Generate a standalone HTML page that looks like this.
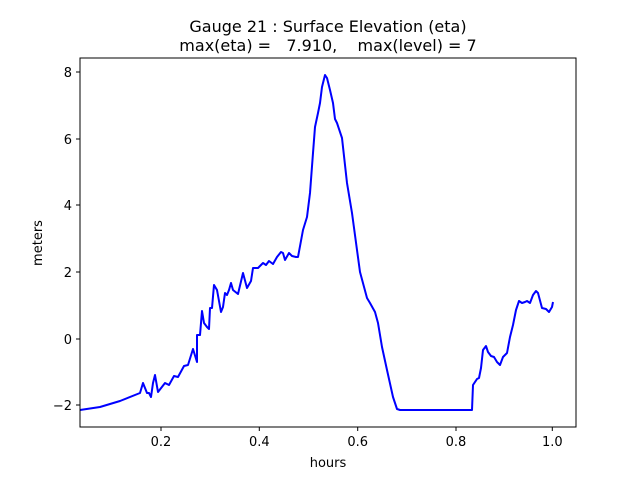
<!DOCTYPE html>
<html><head><meta charset="utf-8"><style>html,body{margin:0;padding:0;background:#fff}</style></head>
<body>
<svg width="640" height="480" xmlns="http://www.w3.org/2000/svg" font-family="DejaVu Sans, Liberation Sans, sans-serif">
<rect width="640" height="480" fill="#fff"/>
<text x="328" y="32" font-size="16" text-anchor="middle">Gauge 21 : Surface Elevation (eta)</text>
<text x="328" y="51" font-size="16" text-anchor="middle" xml:space="preserve">max(eta) =   7.910,    max(level) = 7</text>
<polyline fill="none" stroke="#0000ff" stroke-width="2" stroke-linejoin="round" points="80,410 100,407 120,401 140,393 143,383 147,393 149,393 151,397 153,383 155,375 158,392 165,383 169,385 174,376 178,377 184,366 188,365 193,349 197,362 197,335 200,335 202,311 204,323 207,327 209,329 210,308 212,308 214,285 217,290 221,312 223,307 225,293 227,295 229,290 231,283 233,290 238,294 243,273 247,288 251,281 253,268 258,268 263,263 266,265 269,261 273,264 277,257 281,252 283,253 285,260 289,253 292,256 296,257 298,257 303,230 307,217 310,193 313,153 315,127 318,113 320,103 322,87 325,75 327,78 330,90 333,103 335,119 337,123 342,138 347,183 352,213 357,250 360,272 367,298 370,303 375,312 378,323 382,347 387,370 393,397 397,409 400,410 472,410 473,385 477,379 479,378 481,368 483,350 486,346 488,352 491,356 494,357 497,362 500,365 503,357 507,353 510,337 513,325 516,310 519,301 522,303 525,302 527,301 530,303 533,295 536,291 538,293 542,308 546,309 549,312 552,307 553,302"/>
<rect x="80" y="58" width="496" height="369" fill="none" stroke="#000" stroke-width="1"/>
<g stroke="#000" stroke-width="1">
<line x1="161" y1="427" x2="161" y2="431"/><line x1="259.3" y1="427" x2="259.3" y2="431"/><line x1="357.7" y1="427" x2="357.7" y2="431"/><line x1="456" y1="427" x2="456" y2="431"/><line x1="552.3" y1="427" x2="552.3" y2="431"/>
<line x1="76" y1="72" x2="80" y2="72"/><line x1="76" y1="139" x2="80" y2="139"/><line x1="76" y1="205" x2="80" y2="205"/><line x1="76" y1="272" x2="80" y2="272"/><line x1="76" y1="339" x2="80" y2="339"/><line x1="76" y1="405" x2="80" y2="405"/>
</g>
<g font-size="13" text-anchor="middle">
<text x="161" y="446">0.2</text><text x="259.3" y="446">0.4</text><text x="357.7" y="446">0.6</text><text x="456" y="446">0.8</text><text x="552.3" y="446">1.0</text>
<text x="328" y="467">hours</text>
</g>
<g font-size="13" text-anchor="end">
<text x="72" y="77">8</text><text x="72" y="144">6</text><text x="72" y="210">4</text><text x="72" y="277">2</text><text x="72" y="344">0</text><text x="72" y="410">−2</text>
</g>
<text transform="translate(42,243) rotate(-90)" font-size="13" text-anchor="middle">meters</text>
</svg>
</body></html>
